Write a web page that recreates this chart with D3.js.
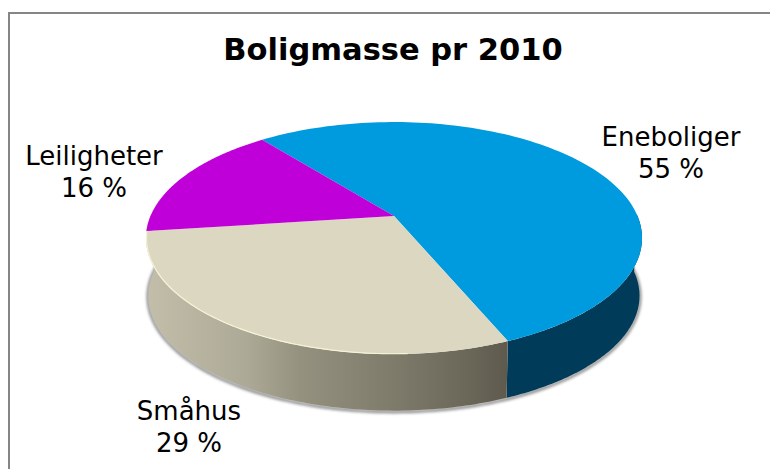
<!DOCTYPE html>
<html>
<head>
<meta charset="utf-8">
<script src="https://d3js.org/d3.v7.min.js"></script>
<style>
html, body { margin: 0; padding: 0; background: #fff; }
svg { display: block; }
text { font-family: "DejaVu Sans", sans-serif; fill: #000; }
</style>
</head>
<body>
<div id="my_dataviz"></div>
<script>
var chartTitle = "Boligmasse pr 2010";
var categories = ["Eneboliger", "Småhus", "Leiligheter"];
var percentLabels = ["55 %", "29 %", "16 %"];
var shares = [54.4, 29.2, 16.4]; // as drawn, the slices don't quite match the printed labels
var topColors = ["#009bdf", "#dcd7c0", "#c000d8"];
var width = 770, height = 469;

var svg = d3.select("#my_dataviz").append("svg")
    .attr("width", width)
    .attr("height", height);

// chart frame, cropped at the right and bottom
svg.append("path")
    .attr("d", "M9,469V13H770")
    .attr("fill", "none")
    .attr("stroke", "#858585")
    .attr("stroke-width", 2);

var defs = svg.append("defs");
var wallGrad = defs.append("linearGradient")
    .attr("id", "wallBeige")
    .attr("gradientUnits", "userSpaceOnUse")
    .attr("x1", 146).attr("x2", 506)
    .attr("y1", 0).attr("y2", 0);
var wallStops = [[0, "#c2beaa"], [0.28, "#aca996"], [0.43, "#95917f"], [0.7, "#7d7a6a"], [0.9, "#6a6759"], [1, "#5e5a4e"]];
wallGrad.selectAll("stop")
    .data(wallStops)
    .enter()
    .append("stop")
        .attr("offset", function(d) { return d[0]; })
        .attr("stop-color", function(d) { return d[1]; });

var blur = defs.append("filter").attr("id", "soft")
    .attr("x", "-5%").attr("y", "-5%").attr("width", "110%").attr("height", "115%");
blur.append("feGaussianBlur").attr("stdDeviation", 1.5);

// the pie is tilted: a homography sends the unit circle to the drawn ellipse,
// so the apex sits above the ellipse centre
var apex = [394, 216], rx = 243.5, ry = 111.8, tilt = 0.19, depth = 58;

function project(angle, scale, dy) {
    var u = Math.sin(angle), v = -Math.cos(angle), w = 1 - tilt * v;
    return [apex[0] + rx * scale * u / w, apex[1] + (dy || 0) + ry * scale * v / w];
}

function arcPoints(a0, a1, scale, dy) {
    return d3.range(0, 121).map(function(i) {
        return project(a0 + (a1 - a0) * i / 120, scale, dy);
    });
}

var line = d3.line();
var pie = d3.pie().sort(null)
    .startAngle(-38.5 * Math.PI / 180)
    .endAngle((360 - 38.5) * Math.PI / 180);
var slices = pie(shares);

// the near rim: blue from the right edge, beige runs on to the left edge
function wall(d) {
    var lo = Math.max(d.startAngle, Math.PI / 2 - 0.02);
    var hi = d.index == 1 ? 3 * Math.PI / 2 + 0.02 : d.endAngle;
    var upper = arcPoints(lo, hi, 1, 0);
    var lower = arcPoints(hi, lo, 0.99, depth);
    return line(upper.concat(lower)) + "Z";
}

// soft edge under the walls
svg.append("path")
    .attr("d", line(arcPoints(Math.PI / 2 - 0.1, 3 * Math.PI / 2 + 0.1, 0.992, depth + 1)))
    .attr("fill", "none")
    .attr("stroke", "#777")
    .attr("stroke-width", 2.5)
    .attr("filter", "url(#soft)");

var wallFill = ["#003c5a", "url(#wallBeige)"];
svg.selectAll(".wall")
    .data(slices.slice(0, 2))
    .enter()
    .append("path")
        .attr("class", "wall")
        .attr("d", wall)
        .attr("fill", function(d, i) { return wallFill[i]; });

// top faces
svg.selectAll(".slice")
    .data(slices)
    .enter()
    .append("path")
        .attr("class", "slice")
        .attr("d", function(d) {
            return line([apex].concat(arcPoints(d.startAngle, d.endAngle, 1, 0))) + "Z";
        })
        .attr("fill", function(d, i) { return topColors[i]; });

// pale highlight along the near rim of the beige slice
svg.append("path")
    .attr("d", line(arcPoints(slices[1].startAngle + 0.35, slices[1].endAngle, 0.998, 0)))
    .attr("fill", "none")
    .attr("stroke", "#f6f2d6")
    .attr("stroke-width", 1.2);

svg.append("text")
    .attr("x", 393)
    .attr("y", 60)
    .attr("text-anchor", "middle")
    .attr("font-weight", "bold")
    .attr("font-size", 30.5)
    .text(chartTitle);

var labelAt = [[671, 146], [189, 420], [94, 165]];
var labels = svg.selectAll(".lab")
    .data(categories)
    .enter()
    .append("text")
        .attr("class", "lab")
        .attr("text-anchor", "middle")
        .attr("font-size", 26);
labels.append("tspan")
    .attr("x", function(d, i) { return labelAt[i][0]; })
    .attr("y", function(d, i) { return labelAt[i][1]; })
    .text(function(d) { return d; });
labels.append("tspan")
    .attr("x", function(d, i) { return labelAt[i][0]; })
    .attr("y", function(d, i) { return labelAt[i][1] + 32; })
    .text(function(d, i) { return percentLabels[i]; });
</script>
</body>
</html>
